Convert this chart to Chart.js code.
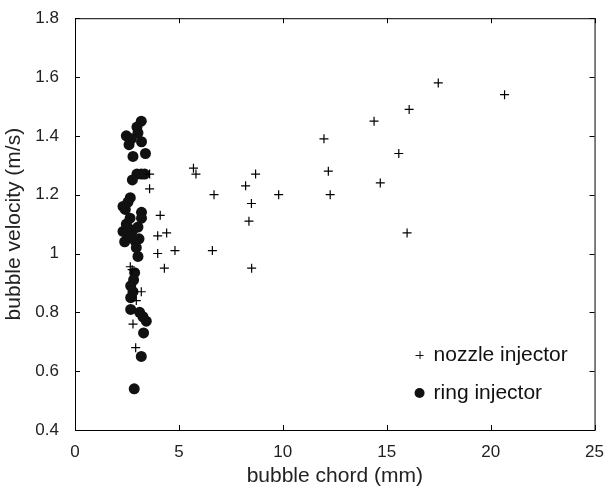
<!DOCTYPE html>
<html>
<head>
<meta charset="utf-8">
<script src="https://cdn.jsdelivr.net/npm/chart.js@4.4.0/dist/chart.umd.min.js"></script>
<style>
  html, body { margin: 0; padding: 0; background: #fff; }
  #wrap { width: 608px; height: 489px; }
</style>
</head>
<body>
<div id="wrap"><canvas id="chart"></canvas></div>
<script>
// --- data ---
const nozzleChord = [2.66, 2.75, 2.79, 2.92, 2.95, 3.19, 3.59, 3.59, 3.98, 3.98, 4.10, 4.30, 4.41, 4.81,
  5.70, 5.82, 6.61, 6.69, 8.21, 8.37, 8.49, 8.50, 8.69, 9.80, 11.98, 12.19, 12.28,
  14.39, 14.69, 15.58, 15.98, 16.08, 17.48, 20.67];
const nozzleVel = [0.955, 0.945, 0.76, 0.68, 0.84, 0.87, 1.27, 1.22, 1.06, 1.00, 1.13, 0.95, 1.07, 1.01,
  1.29, 1.27, 1.01, 1.20, 1.23, 1.11, 1.17, 0.95, 1.27, 1.20, 1.39, 1.28, 1.20,
  1.45, 1.24, 1.34, 1.07, 1.49, 1.58, 1.54];

const ringChord = [3.19, 2.98, 3.03, 2.47, 2.71, 3.20, 2.60, 3.39, 2.79, 2.98, 3.19, 3.35, 2.76,
  2.66, 2.55, 2.31, 2.42, 3.20, 3.20, 2.47, 3.03, 2.31, 2.79, 2.55, 2.87, 2.39, 2.95, 3.03,
  2.87, 2.82, 2.68, 2.79, 2.68, 2.68, 3.11, 3.27, 3.43, 3.30, 3.19, 2.85,
  2.60, 2.70, 2.50, 2.65, 3.08];
const ringVel = [1.45, 1.43, 1.41, 1.40, 1.39, 1.38, 1.37, 1.34, 1.33, 1.27, 1.27, 1.27, 1.25,
  1.19, 1.175, 1.16, 1.15, 1.14, 1.12, 1.10, 1.09, 1.075, 1.08, 1.06, 1.045, 1.04, 1.02, 0.99,
  0.935, 0.91, 0.89, 0.87, 0.85, 0.81, 0.80, 0.785, 0.77, 0.73, 0.65, 0.54,
  1.07, 1.06, 1.09, 1.12, 1.05];

const xTicks = [0, 5, 10, 15, 20, 25];
const yTicks = [0.4, 0.6, 0.8, 1, 1.2, 1.4, 1.6, 1.8];
const seriesNames = ['nozzle injector', 'ring injector'];

const toPoints = (xs, ys) => xs.map((x, i) => ({ x, y: ys[i] }));

// box round the plot + inward ticks on all four sides (matlab look)
const framePlugin = {
  id: 'frame',
  beforeDatasetsDraw(chart) {
    const { ctx, chartArea: a, scales: { x, y } } = chart;
    const len = 5;
    ctx.save();
    ctx.strokeStyle = '#000';
    ctx.lineWidth = 1;
    ctx.strokeRect(a.left + 0.5, a.top + 0.5, a.right - a.left, a.bottom - a.top);
    ctx.beginPath();
    for (const v of xTicks) {
      const px = Math.round(x.getPixelForValue(v)) + 0.5;
      ctx.moveTo(px, a.bottom); ctx.lineTo(px, a.bottom - len);
      ctx.moveTo(px, a.top); ctx.lineTo(px, a.top + len);
    }
    for (const v of yTicks) {
      const py = Math.round(y.getPixelForValue(v)) + 0.5;
      ctx.moveTo(a.left, py); ctx.lineTo(a.left + len, py);
      ctx.moveTo(a.right, py); ctx.lineTo(a.right - len, py);
    }
    ctx.stroke();
    ctx.restore();
  }
};

// legend drawn inside the plot, bottom right
const insideLegend = {
  id: 'insideLegend',
  afterDraw(chart) {
    const { ctx, chartArea: a } = chart;
    const mx = a.right - 175, tx = a.right - 161;
    const rows = [a.bottom - 75, a.bottom - 37];
    ctx.save();
    ctx.fillStyle = '#111';
    ctx.strokeStyle = '#111';
    ctx.lineWidth = 1;
    // plus
    ctx.beginPath();
    ctx.moveTo(mx - 4, rows[0] + 0.5); ctx.lineTo(mx + 4, rows[0] + 0.5);
    ctx.moveTo(mx + 0.5, rows[0] - 4); ctx.lineTo(mx + 0.5, rows[0] + 4);
    ctx.stroke();
    // dot
    ctx.beginPath();
    ctx.arc(mx, rows[1], 5, 0, Math.PI * 2);
    ctx.fill();
    ctx.font = '21px "Liberation Sans", Arial, sans-serif';
    ctx.textBaseline = 'middle';
    ctx.fillText(seriesNames[0], tx, rows[0]);
    ctx.fillText(seriesNames[1], tx, rows[1]);
    ctx.restore();
  }
};

Chart.defaults.font.family = '"Liberation Sans", Arial, sans-serif';
Chart.defaults.color = '#222';

new Chart(document.getElementById('chart'), {
  type: 'scatter',
  data: {
    datasets: [
      {
        label: seriesNames[0],
        data: toPoints(nozzleChord, nozzleVel),
        pointStyle: 'cross',
        pointRadius: 4.5,
        borderColor: '#000',
        borderWidth: 1.2,
      },
      {
        label: seriesNames[1],
        data: toPoints(ringChord, ringVel),
        pointStyle: 'circle',
        pointRadius: 5.5,
        backgroundColor: '#111',
        borderColor: '#111',
        borderWidth: 0,
      },
    ]
  },
  options: {
    responsive: true,
    maintainAspectRatio: false,
    animation: false,
    layout: { padding: { top: 18, right: 10, left: 0, bottom: 0 } },
    plugins: { legend: { display: false }, tooltip: { enabled: false } },
    scales: {
      x: {
        type: 'linear', min: 0, max: 25,
        afterBuildTicks: (s) => { s.ticks = xTicks.map(v => ({ value: v })); },
        grid: { display: false },
        border: { display: false },
        ticks: { font: { size: 17 }, padding: 4, maxRotation: 0 },
        title: { display: true, text: 'bubble chord (mm)', font: { size: 21 }, padding: { top: 3, bottom: 0 }, color: '#222' },
        afterFit: (s) => { s.height = 59; },
      },
      y: {
        type: 'linear', min: 0.4, max: 1.8,
        afterBuildTicks: (s) => { s.ticks = yTicks.map(v => ({ value: v })); },
        grid: { display: false },
        border: { display: false },
        ticks: { font: { size: 17 }, padding: 8, callback: (v) => String(+v.toFixed(1)) },
        title: { display: true, text: 'bubble velocity (m/s)', font: { size: 21 }, padding: { top: 2, bottom: 4 }, color: '#222' },
        afterFit: (s) => { s.width = 75; },
      }
    }
  },
  plugins: [framePlugin, insideLegend]
});
</script>
</body>
</html>
